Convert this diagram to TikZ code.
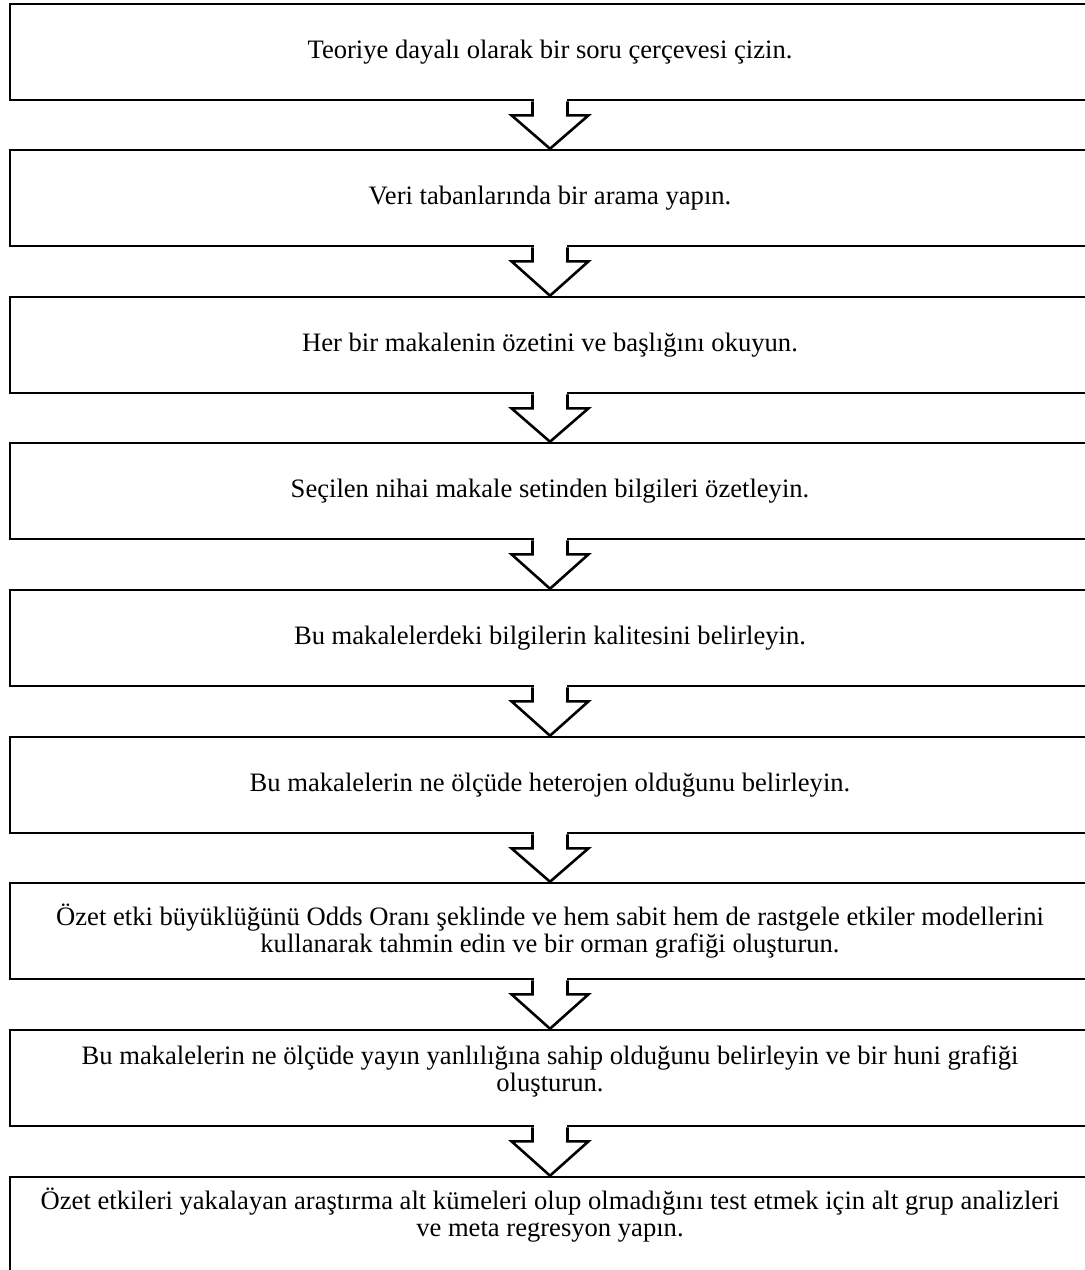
\documentclass[tikz,border=0pt]{standalone}
\usepackage{fontspec}
\setmainfont{Liberation Serif}
\usetikzlibrary{calc}
\tikzset{
  stepbox/.style={draw, line width=1.3pt, minimum width=540pt, minimum height=48pt,
    align=center, inner sep=0pt, font=\fontsize{13.3}{13.5}\selectfont},
  lifted/.style={text depth=#1},
  flowarrow/.style={draw, line width=1.3pt, fill=white, line join=miter},
}
% block arrow from the bottom of one box to the top of the next
\newcommand{\blockarrow}[2]{%
  \fill[white] ($(#1.south)+(-16.5,-3)$) rectangle ($(#1.south)+(16.5,14)$);
  \draw[flowarrow] ($(#1.south)+(-17.5,0)$) -- ++(0,14) -- ++(-21,0) -- (#2.north)
    -- ($(#1.south)+(38.5,14)$) -- ++(-21,0) -- ++(0,-14);
}
\begin{document}
\begin{tikzpicture}[x=0.5pt, y=-0.5pt]
\useasboundingbox (0,0) rectangle (1085,1270);
\node[stepbox] (s1) at (550,52) {Teoriye dayalı olarak bir soru çerçevesi çizin.};
\node[stepbox] (s2) at (550,198) {Veri tabanlarında bir arama yapın.};
\node[stepbox] (s3) at (550,345) {Her bir makalenin özetini ve başlığını okuyun.};
\node[stepbox] (s4) at (550,491) {Seçilen nihai makale setinden bilgileri özetleyin.};
\node[stepbox] (s5) at (550,638) {Bu makalelerdeki bilgilerin kalitesini belirleyin.};
\node[stepbox] (s6) at (550,785) {Bu makalelerin ne ölçüde heterojen olduğunu belirleyin.};
\node[stepbox] (s7) at (550,931) {Özet etki büyüklüğünü Odds Oranı şeklinde ve hem sabit hem de rastgele etkiler modellerini\\kullanarak tahmin edin ve bir orman grafiği oluşturun.};
\node[stepbox, lifted=9pt] (s8) at (550,1078) {Bu makalelerin ne ölçüde yayın yanlılığına sahip olduğunu belirleyin ve bir huni grafiği\\oluşturun.};
\node[stepbox, lifted=13pt] (s9) at (550,1225) {Özet etkileri yakalayan araştırma alt kümeleri olup olmadığını test etmek için alt grup analizleri\\ve meta regresyon yapın.};
\foreach \a/\b in {s1/s2, s2/s3, s3/s4, s4/s5, s5/s6, s6/s7, s7/s8, s8/s9}
  \blockarrow{\a}{\b};
\end{tikzpicture}
\end{document}
